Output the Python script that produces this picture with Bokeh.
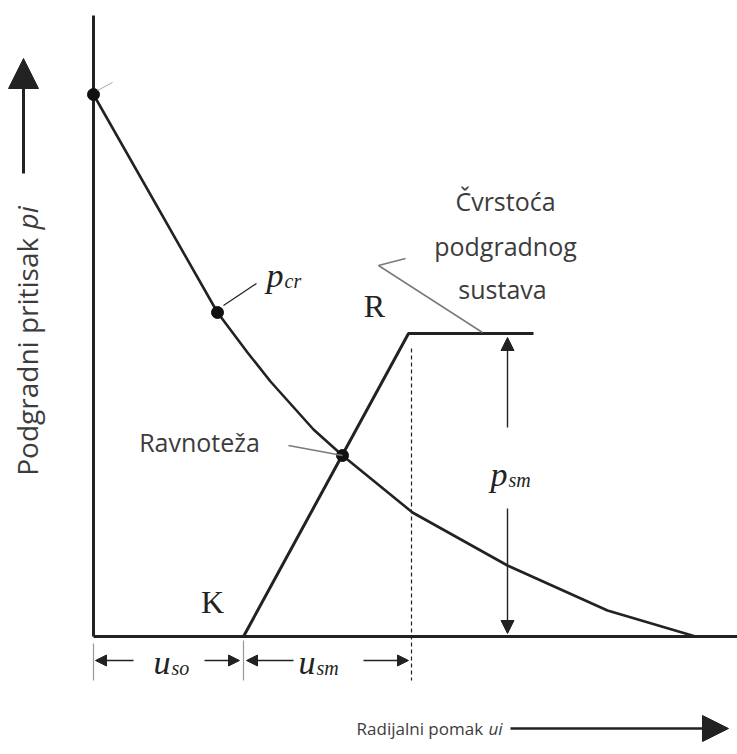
import math
from bokeh.plotting import figure
from bokeh.models import Range1d, Arrow, NormalHead
from bokeh.core.properties import value
from bokeh.embed import file_html
from bokeh.resources import INLINE

# Ground reaction curve: support pressure p_i vs radial displacement u_i
gr_u = [0.0, 12.4, 15.4, 17.7, 22.0, 24.9, 31.9, 41.4, 51.4, 60.2]
gr_p = [54.2, 32.4, 28.4, 25.5, 20.7, 18.1, 12.4, 7.1, 2.6, 0.0]

# Support characteristic K -> R -> plateau
sup_u = [15.0, 31.5, 44.0]
sup_p = [0.0, 30.3, 30.3]

# Marked points: initial pressure, p_cr, equilibrium
pt_u = [0.0, 12.4, 24.9]
pt_p = [54.2, 32.4, 18.1]

u_so = 15.0          # displacement before the support is installed
u_sm = 16.8          # displacement capacity of the support
p_sm = 30.3          # support strength
p_sm_u = 41.4        # where the p_sm dimension is drawn

u_max = 62.1
p_axis_end = 64.4

SANS = value("Open Sans")
SERIF = value("Liberation Serif")
INK = "#222222"
TXT = "#3c3c3c"
GREY = "#7a7a7a"

p = figure(width=737, height=754, output_backend="svg", toolbar_location=None,
           x_range=Range1d(-9.3, 64.4), y_range=Range1d(-11.8, 63.6),
           x_axis_type=None, y_axis_type=None, min_border=0,
           outline_line_color=None, background_fill_color="white")
p.grid.visible = False

# axes of the diagram
p.line([0, 0], [0, u_max], line_color=INK, line_width=3)
p.line([0, p_axis_end], [0, 0], line_color=INK, line_width=3)

# ground reaction curve and support line
p.line(gr_u, gr_p, line_color=INK, line_width=2.6, line_join="round")
p.line(sup_u, sup_p, line_color=INK, line_width=3)
p.scatter(pt_u, pt_p, size=12, color="#111111")

# small leader at the initial pressure point
p.line([pt_u[0] + 0.4, pt_u[0] + 1.9], [pt_p[0] + 0.4, pt_p[0] + 1.2], line_color="#aaaaaa", line_width=1)

# dashed line at u_so + u_sm
x_dash = u_so + u_sm
p.line([x_dash, x_dash], [p_sm - 1.5, -4.4], line_color=INK, line_width=1.2, line_dash="4 3")

# extension lines below the u axis
p.line([0, 0], [-0.7, -4.4], line_color="#999999", line_width=1.2)
p.line([u_so, u_so], [-0.4, -4.4], line_color="#999999", line_width=1.2)


def arrow(x0, y0, x1, y1, size=11, lw=1.4):
    p.add_layout(Arrow(end=NormalHead(size=size, fill_color=INK, line_color=INK),
                       x_start=x0, y_start=y0, x_end=x1, y_end=y1,
                       line_color=INK, line_width=lw))


y_dim = -2.4
arrow(4.0, y_dim, 0.2, y_dim)
arrow(11.1, y_dim, u_so - 0.4, y_dim)
arrow(20.0, y_dim, u_so + 0.3, y_dim)
arrow(27.0, y_dim, x_dash - 0.3, y_dim)

# p_sm dimension
arrow(p_sm_u, 20.9, p_sm_u, p_sm - 0.4, size=13)
arrow(p_sm_u, 12.8, p_sm_u, 0.3, size=13)

# axis direction arrows
arrow(-7.0, 46.3, -7.0, 57.8, size=30, lw=3)
arrow(41.7, -9.2, 63.5, -9.2, size=26, lw=2.5)


# italic symbols with subscripts
def symbol(x, y, main, sub, size_main="34px", size_sub="20px", dy=-0.5):
    p.text([x], [y], text=[main], text_font=SERIF, text_font_style="italic",
           text_font_size=size_main, text_align="right", text_baseline="middle", text_color=INK)
    p.text([x + 0.1], [y + dy], text=[sub], text_font=SERIF, text_font_style="italic",
           text_font_size=size_sub, text_align="left", text_baseline="middle", text_color=INK)


symbol(7.7, y_dim - 0.2, "u", "so")
symbol(22.2, y_dim - 0.2, "u", "sm")
symbol(19.0, 36.1, "p", "cr")
symbol(41.4, 16.2, "p", "sm")

# K and R
p.text([11.9, 28.1], [3.5, 33.1], text=["K", "R"], text_font=SERIF, text_font_size="32px",
       text_align="center", text_baseline="middle", text_color=INK)

# p_cr leader
p.line([13.0, 16.3], [33.1, 35.3], line_color=INK, line_width=1.2)

# equilibrium label
p.text([10.6], [19.5], text=["Ravnoteža"], text_font=SANS, text_font_size="25px",
       text_align="center", text_baseline="middle", text_color=TXT)
p.line([19.5, pt_u[2]], [19.1, pt_p[2]], line_color=GREY, line_width=1.5)

# support strength label
p.text([41.2, 41.2, 40.9], [43.6, 39.1, 34.8], text=["Čvrstoća", "podgradnog", "sustava"],
       text_font=SANS, text_font_size="25px", text_align="center", text_baseline="middle",
       text_color=TXT)
p.line([38.9, 28.5, 31.2], [30.4, 37.1, 37.8], line_color=GREY, line_width=1.5)

# axis titles
p.text([39.4], [-9.2], text=["Radijalni pomak "], text_font=SANS, text_font_size="17px",
       text_align="right", text_baseline="middle", text_color=TXT)
p.text([39.5], [-9.2], text=["ui"], text_font=SANS, text_font_style="italic",
       text_font_size="17px", text_align="left", text_baseline="middle", text_color=TXT)

p.text([-6.7], [40.6], text=["Podgradni pritisak "], text_font=SANS, text_font_size="28px",
       angle=math.pi / 2, text_align="right", text_baseline="middle", text_color=TXT)
p.text([-6.7], [40.7], text=["pi"], text_font=SANS, text_font_style="italic", text_font_size="28px",
       angle=math.pi / 2, text_align="left", text_baseline="middle", text_color=TXT)

open("out.html", "w").write(file_html(p, INLINE))
